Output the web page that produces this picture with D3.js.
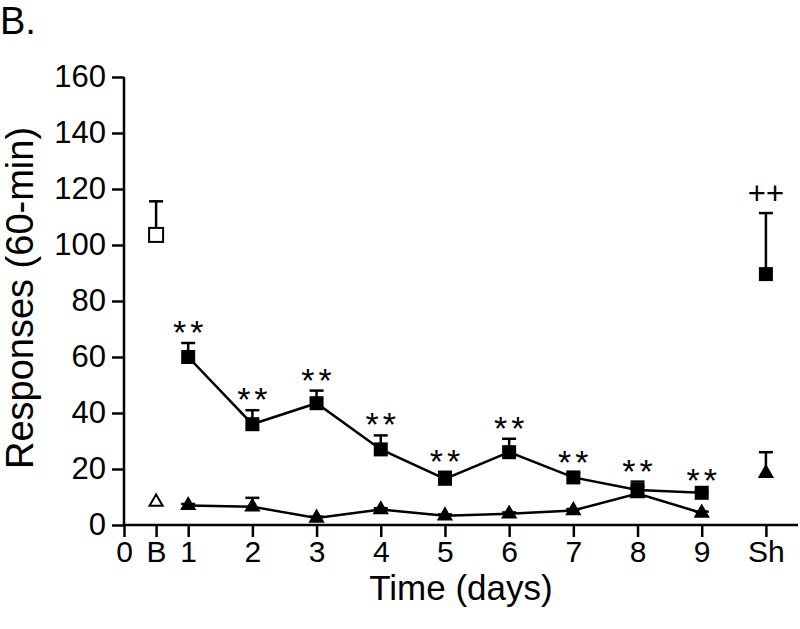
<!DOCTYPE html>
<html>
<head>
<meta charset="utf-8">
<script src="https://cdn.jsdelivr.net/npm/d3@7/dist/d3.min.js"></script>
<style>
  html, body { margin: 0; padding: 0; background: #fff; }
  svg { display: block; font-family: "Liberation Sans", Arial, sans-serif; }
</style>
</head>
<body>
<svg id="chart" width="800" height="629"></svg>
<script>
// ---- data ----
const tickValues = [0, 0.5, 1, 2, 3, 4, 5, 6, 7, 8, 9, 10];
const tickLabels = ["0", "B", "1", "2", "3", "4", "5", "6", "7", "8", "9", "Sh"];
const yTicks = [0, 20, 40, 60, 80, 100, 120, 140, 160];

const days = [1, 2, 3, 4, 5, 6, 7, 8, 9];
const squareMean = [60, 36, 43.5, 27, 16.5, 26, 17, 12.5, 11.5];
const squareSem  = [5, 5, 4.5, 5, 2.5, 4.8, 1.5, 3, 0.5];
const triMean    = [7, 6.5, 2.5, 5.5, 3.3, 4, 5.2, 11.2, 4.3];
const triSem     = [0.5, 3.2, 0.5, 0.5, 0.5, 0.5, 0.5, 2.5, 0.5];

const baselineX = 0.5;            // "B"
const baselineSquare = [103.6, 12];   // mean, sem
const baselineTri = [8.2, 0];
const shX = 10;                   // "Sh"
const shSquare = [89.6, 21.8];
const shTri = [18.5, 7.5];

const starLabels = ["**", "**", "**", "**", "**", "**", "**", "**", "**"];
const shLabel = "++";

// ---- layout ----
const svg = d3.select("#chart");
const x = d3.scaleLinear().domain([0, 10.5]).range([124, 798]);
const y = d3.scaleLinear().domain([0, 160]).range([525, 77]);
const black = "#000";
const FONT = "'Liberation Sans', Arial, sans-serif";

// axes
const yAxis = d3.axisLeft(y).tickValues(yTicks).tickSize(12).tickPadding(6).tickFormat(d3.format("d"));
const gy = svg.append("g").attr("transform", `translate(${x(0)},0)`).call(yAxis);
const xAxis = d3.axisBottom(x).tickValues(tickValues).tickSize(12).tickPadding(4)
  .tickFormat((d, i) => tickLabels[i]);
const gx = svg.append("g").attr("transform", `translate(0,${y(0)})`).call(xAxis);

[gx, gy].forEach(g => {
  g.select(".domain").attr("stroke", black).attr("stroke-width", 2.5);
  g.selectAll(".tick line").attr("stroke", black).attr("stroke-width", 2.5);
  g.selectAll(".tick text").attr("fill", black).attr("font-size", 31).attr("font-family", FONT);
});
gx.selectAll(".tick text").attr("font-size", 30);
gy.select(".domain").attr("d", `M0,${y(160)}V${y(0)}`);
gx.select(".domain").attr("d", `M${x(0)},0H${x(10.5)}`);

// titles
svg.append("text").attr("x", 0).attr("y", 34).attr("font-size", 38).attr("fill", black).text("B.");
svg.append("text").attr("x", 461).attr("y", 600).attr("text-anchor", "middle")
  .attr("font-size", 35).attr("fill", black).text("Time (days)");
svg.append("text").attr("transform", "translate(33,298) rotate(-90)").attr("text-anchor", "middle")
  .attr("font-size", 38).attr("fill", black).text("Responses (60-min)");

const plot = svg.append("g");

// error bars (upper only)
function errBar(cx, mean, sem) {
  if (sem <= 0) return;
  plot.append("line").attr("x1", x(cx)).attr("x2", x(cx)).attr("y1", y(mean)).attr("y2", y(mean + sem))
    .attr("stroke", black).attr("stroke-width", 2.5);
  plot.append("line").attr("x1", x(cx) - 7).attr("x2", x(cx) + 7).attr("y1", y(mean + sem)).attr("y2", y(mean + sem))
    .attr("stroke", black).attr("stroke-width", 2.5);
}
days.forEach((d, i) => { errBar(d, squareMean[i], squareSem[i]); errBar(d, triMean[i], triSem[i]); });
errBar(baselineX, baselineSquare[0], baselineSquare[1]);
errBar(baselineX, baselineTri[0], baselineTri[1]);
errBar(shX, shSquare[0], shSquare[1]);
errBar(shX, shTri[0], shTri[1]);

// lines
const line = d3.line().x(d => x(d[0])).y(d => y(d[1]));
plot.append("path").datum(days.map((d, i) => [d, squareMean[i]])).attr("d", line)
  .attr("fill", "none").attr("stroke", black).attr("stroke-width", 2.5);
plot.append("path").datum(days.map((d, i) => [d, triMean[i]])).attr("d", line)
  .attr("fill", "none").attr("stroke", black).attr("stroke-width", 2.5);

// markers
const sq = 14;
function square(cx, v, filled) {
  plot.append("rect").attr("x", x(cx) - sq / 2).attr("y", y(v) - sq / 2).attr("width", sq).attr("height", sq)
    .attr("fill", filled ? black : "#fff").attr("stroke", black).attr("stroke-width", filled ? 0 : 2);
}
function tri(cx, v, filled) {
  plot.append("path").attr("d", d3.symbol().type(d3.symbolTriangle).size(filled ? 115 : 75)())
    .attr("transform", `translate(${x(cx)},${y(v)})`)
    .attr("fill", filled ? black : "#fff").attr("stroke", black).attr("stroke-width", filled ? 0 : 2);
}
days.forEach((d, i) => { square(d, squareMean[i], true); tri(d, triMean[i], true); });
square(baselineX, baselineSquare[0], false);
tri(baselineX, baselineTri[0], false);
square(shX, shSquare[0], true);
tri(shX, shTri[0], true);

// significance labels
days.forEach((d, i) => {
  plot.append("text").attr("x", x(d) + 2).attr("y", y(squareMean[i] + squareSem[i]) + 1)
    .attr("text-anchor", "middle").attr("font-size", 34).attr("letter-spacing", 4)
    .attr("fill", black).text(starLabels[i]);
});
plot.append("text").attr("x", x(shX)).attr("y", y(shSquare[0] + shSquare[1]) - 9)
  .attr("text-anchor", "middle").attr("font-size", 31).attr("fill", black).text(shLabel);
</script>
</body>
</html>
